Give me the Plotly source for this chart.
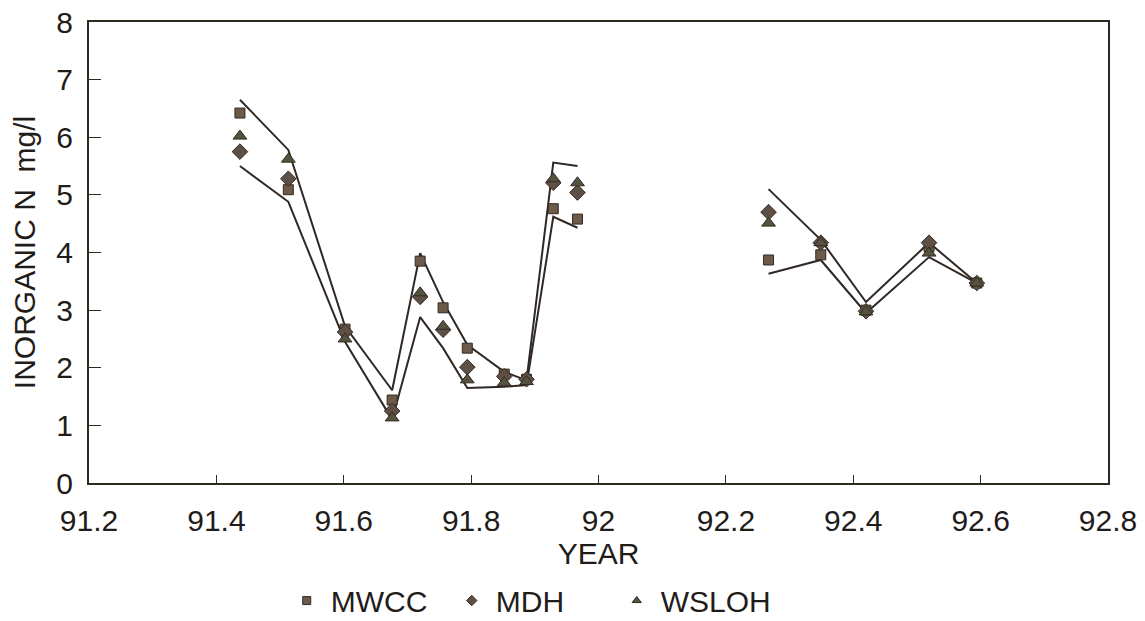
import plotly.graph_objects as go

# sampling dates (decimal year)
years = [91.437, 91.513, 91.602, 91.676, 91.720, 91.756, 91.794, 91.852, 91.887,
         91.929, 91.967, 92.267, 92.349, 92.420, 92.519, 92.594]

mwcc = [6.42, 5.09, 2.67, 1.44, 3.85, 3.04, 2.34, 1.89, 1.80, 4.76, 4.58, 3.87, 3.96, 3.00, 4.10, 3.47]
mdh = [5.75, 5.28, 2.62, 1.25, 3.23, 2.66, 2.01, 1.85, 1.80, 5.21, 5.04, 4.70, 4.17, 2.98, 4.17, 3.47]
wsloh = [6.02, 5.62, 2.50, 1.13, 3.30, 2.72, 1.79, 1.74, 1.76, 5.28, 5.21, 4.51, 4.17, 2.97, 3.99, 3.47]

# envelope lines (gap between the two sampling periods)
line_x = [91.437, 91.513, 91.602, 91.676, 91.720, 91.756, 91.794, 91.852, 91.887, 91.929, 91.967,
          None, 92.267, 92.349, 92.420, 92.519, 92.594]
upper = [6.65, 5.78, 2.72, 1.61, 3.99, 3.14, 2.40, 1.93, 1.78, 5.56, 5.50,
         None, 5.10, 4.22, 3.14, 4.17, 3.47]
lower = [5.50, 4.88, 2.45, 1.10, 2.88, 2.34, 1.65, 1.67, 1.70, 4.62, 4.43,
         None, 3.63, 3.87, 2.95, 3.92, 3.47]

x_ticks = [91.2, 91.4, 91.6, 91.8, 92.0, 92.2, 92.4, 92.6, 92.8]
x_labels = ["91.2", "91.4", "91.6", "91.8", "92", "92.2", "92.4", "92.6", "92.8"]
y_ticks = [0, 1, 2, 3, 4, 5, 6, 7, 8]

LINE = "#2f2824"
OUT = "#332a22"
FONT = "Liberation Sans, Arial, sans-serif"
TXT = "#1f1c1a"
FS = 30

fig = go.Figure()
for ys in (upper, lower):
    fig.add_trace(go.Scatter(x=line_x, y=ys, mode="lines", connectgaps=False,
                             line=dict(color=LINE, width=2), showlegend=False,
                             hoverinfo="skip"))

series = [("MWCC", mwcc, "square", "#6d5a48", 10),
          ("MDH", mdh, "diamond", "#5f5046", 12),
          ("WSLOH", wsloh, "triangle-up", "#545340", 12)]
for name, vals, sym, col, sz in series:
    fig.add_trace(go.Scatter(x=years, y=vals, mode="markers", name=name, showlegend=False,
                             marker=dict(symbol=sym, size=sz, color=col,
                                         line=dict(color=OUT, width=1))))
# legend entries (smaller symbols, as in the printed key)
for name, vals, sym, col, sz in series:
    fig.add_trace(go.Scatter(x=[None], y=[None], mode="markers", name=name,
                             marker=dict(symbol=sym, size=8, color=col,
                                         line=dict(color=OUT, width=1))))

axis_common = dict(showgrid=False, zeroline=False, showline=True, linecolor="#2e2a20",
                   linewidth=2, mirror=True, ticks="inside", tickcolor="#2e2a20",
                   automargin=False,
                   tickfont=dict(family=FONT, size=FS, color=TXT))

fig.update_xaxes(range=[91.2, 92.8], tickvals=x_ticks, ticktext=x_labels, ticklen=8,
                 ticklabelstandoff=10,
                 title=dict(text="YEAR", font=dict(family=FONT, size=FS, color=TXT), standoff=0),
                 **axis_common)
fig.update_yaxes(range=[0, 8], tickvals=y_ticks, ticklen=12, ticklabelstandoff=8,
                 title=dict(text="INORGANIC N  mg/l", font=dict(family=FONT, size=FS, color=TXT),
                            standoff=12),
                 **axis_common)

fig.update_layout(
    width=1145, height=621,
    margin=dict(l=89, r=37, t=22, b=138, autoexpand=False),
    paper_bgcolor="white", plot_bgcolor="white",
    font=dict(family=FONT, color=TXT),
    legend=dict(orientation="h", x=0.433, xanchor="center", y=-0.255, yanchor="middle",
                font=dict(family=FONT, size=FS, color=TXT), entrywidth=112,
                entrywidthmode="pixels", itemwidth=38, bgcolor="rgba(0,0,0,0)"),
)

fig.write_html("out.html")
